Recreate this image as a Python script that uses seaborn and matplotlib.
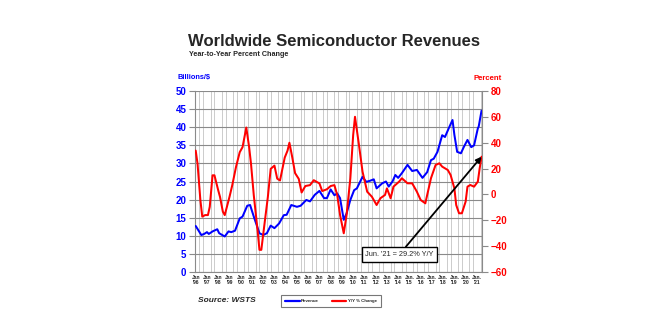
import matplotlib
matplotlib.use("Agg")
import matplotlib.pyplot as plt
import matplotlib.dates as mdates
from matplotlib.lines import Line2D
import pandas as pd
import seaborn as sns

# ---- data ----
rev_dates = ["1996-01", "1996-07", "1996-10", "1997-01", "1997-03", "1997-07", "1997-12",
             "1998-02", "1998-08", "1998-12", "1999-03", "1999-07", "1999-12", "2000-03",
             "2000-08", "2000-11", "2001-03", "2001-09", "2002-01", "2002-05", "2002-09",
             "2003-01", "2003-06", "2003-11", "2004-02", "2004-07", "2005-01", "2005-05",
             "2005-11", "2006-03", "2006-08", "2007-01", "2007-06", "2007-09", "2008-01",
             "2008-05", "2008-08", "2008-11", "2009-03", "2009-06", "2009-10", "2010-02",
             "2010-05", "2010-11", "2011-03", "2011-07", "2011-11", "2012-02", "2012-08",
             "2012-12", "2013-03", "2013-07", "2013-10", "2014-01", "2014-05", "2014-11",
             "2015-04", "2015-09", "2016-03", "2016-08", "2016-12", "2017-03", "2017-07",
             "2017-12", "2018-03", "2018-07", "2018-11", "2019-01", "2019-04", "2019-08",
             "2019-11", "2020-03", "2020-07", "2020-10", "2021-02", "2021-03", "2021-06"]
revenue = [12.7, 10.2, 10.5, 11.0, 10.5, 11.2, 11.8,
           10.7, 9.8, 11.2, 11.0, 11.4, 14.8, 15.3,
           18.3, 18.5, 15.3, 10.7, 10.2, 10.7, 12.8,
           12.1, 13.4, 15.7, 15.8, 18.5, 18.0, 18.3,
           19.9, 19.5, 21.3, 22.4, 20.4, 20.4, 22.8,
           21.2, 21.7, 20.4, 14.4, 16.2, 19.9, 22.6,
           23.1, 26.3, 24.9, 25.2, 25.6, 23.1, 24.5,
           25.0, 23.6, 25.0, 26.8, 26.0, 27.3, 29.6,
           27.9, 28.2, 26.0, 27.6, 30.9, 31.3, 33.2,
           37.8, 37.3, 39.7, 42.0, 37.9, 33.2, 32.8,
           34.5, 36.5, 34.5, 35.0, 39.7, 40.2, 44.6]

yoy_dates = ["1996-01", "1996-03", "1996-06", "1996-08", "1996-11", "1997-02", "1997-04",
             "1997-07", "1997-09", "1998-01", "1998-03", "1998-06", "1998-08", "1999-01",
             "1999-04", "1999-08", "1999-12", "2000-03", "2000-07", "2000-10", "2000-12",
             "2001-03", "2001-07", "2001-09", "2001-11", "2002-02", "2002-06", "2002-09",
             "2003-01", "2003-04", "2003-07", "2003-12", "2004-03", "2004-05", "2004-08",
             "2004-11", "2005-03", "2005-06", "2005-10", "2006-03", "2006-07", "2007-01",
             "2007-04", "2007-09", "2008-01", "2008-05", "2008-08", "2008-11", "2009-03",
             "2009-06", "2009-10", "2010-01", "2010-03", "2010-07", "2010-11", "2011-04",
             "2011-09", "2012-02", "2012-06", "2012-11", "2013-01", "2013-05", "2013-08",
             "2014-02", "2014-05", "2014-11", "2015-04", "2015-09", "2016-01", "2016-06",
             "2016-08", "2016-12", "2017-05", "2017-09", "2017-12", "2018-06", "2018-09",
             "2019-01", "2019-03", "2019-06", "2019-09", "2020-01", "2020-03", "2020-06",
             "2020-10", "2021-02", "2021-04", "2021-06"]
yoy = [33.9, 23.7, -4.5, -17.2, -16.0, -16.0, -9.6,
       14.8, 14.8, 3.2, -2.0, -13.4, -16.0, -2.0,
       7.0, 21.2, 32.7, 36.6, 51.8, 36.6, 23.7,
       -0.6, -27.5, -42.9, -42.9, -25.0, -2.0, 19.8,
       22.3, 12.2, 10.8, 28.5, 33.9, 40.0, 28.8,
       16.5, 12.0, 1.5, 6.5, 7.2, 11.0, 8.5,
       2.6, 4.0, 6.5, 7.2, -0.5, -15.9, -30.1,
       -15.9, 12.5, 46.0, 60.1, 39.5, 17.6, 2.1,
       -1.8, -8.2, -3.0, -0.4, 4.7, -3.0, 6.0,
       9.9, 12.5, 8.6, 8.6, 2.1, -4.3, -6.9,
       -0.4, 12.5, 22.8, 24.1, 21.5, 18.9, 15.0,
       4.7, -8.2, -14.6, -14.6, -5.6, 6.0, 7.3,
       6.0, 9.9, 20.2, 29.2]

years = list(range(1996, 2022))
left_ticks = [0, 5, 10, 15, 20, 25, 30, 35, 40, 45, 50]
right_ticks = [-60, -40, -20, 0, 20, 40, 60, 80]
title = "Worldwide Semiconductor Revenues"
subtitle = "Year-to-Year Percent Change"
annot_text = "Jun. '21 = 29.2% Y/Y"

BLUE = "#0000ff"
RED = "#ff0000"
GRID = "#8a8a8a"

sns.set_style("white")
plt.rcParams["font.family"] = ["Liberation Sans", "DejaVu Sans"]

rev_df = pd.DataFrame({"date": pd.to_datetime(rev_dates), "value": revenue})
yoy_df = pd.DataFrame({"date": pd.to_datetime(yoy_dates), "value": yoy})

fig = plt.figure(figsize=(6.6, 3.3), dpi=100)
ax = fig.add_axes([0.2955, 0.176, 0.435, 0.548])
ax2 = ax.twinx()

sns.lineplot(data=rev_df, x="date", y="value", ax=ax, color=BLUE, lw=1.45, zorder=3)
sns.lineplot(data=yoy_df, x="date", y="value", ax=ax2, color=RED, lw=1.45, zorder=3)

ax.set_ylim(0, 50)
ax2.set_ylim(-60, 80)
ax.set_xlim(pd.Timestamp("1995-12-10"), pd.Timestamp("2021-06-20"))
ax.set_yticks(left_ticks)
ax2.set_yticks(right_ticks)
ax.set_xlabel("")
ax.set_ylabel("")
ax2.set_xlabel("")
ax2.set_ylabel("")

# x ticks
labels = []
for y in years:
    j = "Jan." if y >= 2015 else "Jan"
    labels.append(f"{j}\n'{str(y)[2:]}")
ax.set_xticks([pd.Timestamp(f"{y}-01-01") for y in years])
ax.set_xticklabels(labels, fontsize=3.6, fontweight="bold", linespacing=1.0)
ax.xaxis.set_minor_locator(mdates.MonthLocator(bymonth=[1, 5, 9]))

ax.grid(axis="y", which="major", color=GRID, lw=0.8)
ax.grid(axis="x", which="minor", color="#c4c4c4", lw=0.6)
ax.set_axisbelow(True)
ax2.grid(False)

ax.tick_params(axis="y", length=4.3, width=0.8, color=GRID, labelsize=7,
               labelcolor=BLUE, pad=2)
ax2.tick_params(axis="y", length=4.3, width=0.8, color=GRID, labelsize=7,
                labelcolor=RED, pad=2)
ax.tick_params(axis="x", which="both", length=0, pad=2)
for t in ax.get_yticklabels():
    t.set_fontweight("bold")
for t in ax2.get_yticklabels():
    t.set_fontweight("bold")

for a in (ax, ax2):
    for s in a.spines.values():
        s.set_visible(False)
ax.spines["left"].set_visible(True)
ax.spines["left"].set_color(GRID)
ax.spines["bottom"].set_visible(True)
ax.spines["bottom"].set_color(GRID)
ax2.spines["right"].set_visible(True)
ax2.spines["right"].set_color(GRID)

# annotation
ax2.annotate(annot_text, xy=(pd.Timestamp("2021-06-01"), 29.2),
             xytext=(0.712, 0.097), textcoords="axes fraction",
             ha="center", va="center", fontsize=5.3,
             bbox=dict(boxstyle="square,pad=0.5", fc="white", ec="black", lw=1.0),
             arrowprops=dict(arrowstyle="-|>", color="black", lw=1.3,
                             mutation_scale=8, shrinkA=0, shrinkB=0),
             zorder=5)

# titles and axis captions
fig.text(188 / 660, 1 - 41 / 330, title, fontsize=12.0, fontweight="bold",
         ha="left", va="center")
fig.text(189 / 660, 1 - 55 / 330, subtitle, fontsize=5.2, fontweight="bold",
         ha="left", va="center")
fig.text(177 / 660, 1 - 78 / 330, "Billions/$", fontsize=5.3, fontweight="bold",
         color=BLUE, ha="left", va="center")
fig.text(502 / 660, 1 - 78 / 330, "Percent", fontsize=5.6, fontweight="bold",
         color=RED, ha="right", va="center")
fig.text(198 / 660, 1 - 301 / 330, "Source: WSTS", fontsize=6, fontweight="bold",
         style="italic", ha="left", va="center")

handles = [Line2D([0], [0], color=BLUE, lw=1.6), Line2D([0], [0], color=RED, lw=1.6)]
leg = fig.legend(handles, ["Revenue", "Y/Y % Change"], loc="center",
                 bbox_to_anchor=(331 / 660, 1 - 301 / 330), ncol=2,
                 fontsize=3.2, frameon=True, fancybox=False, edgecolor="#555555",
                 handlelength=3.2, columnspacing=3.0, borderpad=0.9,
                 handletextpad=0.3)
leg.get_frame().set_linewidth(0.8)
for t in leg.get_texts():
    t.set_fontweight("bold")

fig.savefig("out.png", dpi=100, facecolor="white")
